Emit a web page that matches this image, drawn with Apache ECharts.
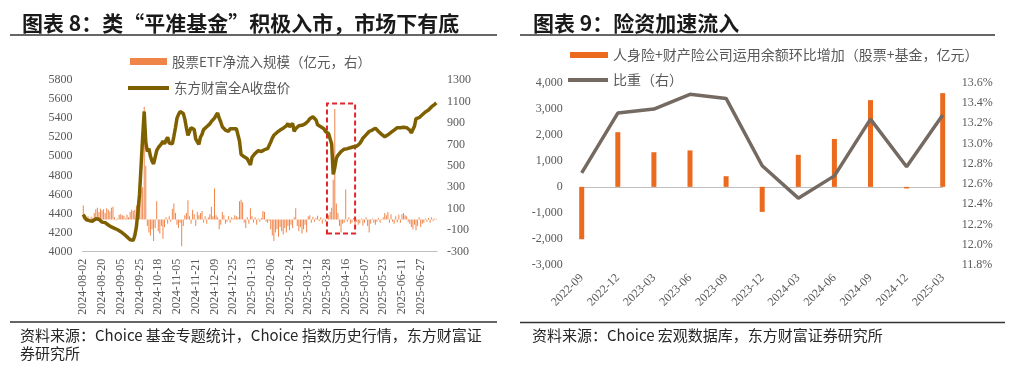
<!DOCTYPE html>
<html>
<head>
<meta charset="utf-8">
<script src="https://cdn.jsdelivr.net/npm/echarts@6/dist/echarts.min.js"></script>
<style>
html,body{margin:0;padding:0;background:#ffffff;}
#c{width:1024px;height:373px;}
</style>
</head>
<body>
<div id="c"></div>
<script>
// ---------- Left chart (图表 8) ----------
const tradeStart = '2024-08-02';
const tradeEnd = '2025-07-11';
const marketClosed = [
  '2024-09-16','2024-09-17',
  '2024-10-01','2024-10-02','2024-10-03','2024-10-04','2024-10-07',
  '2025-01-01',
  '2025-01-28','2025-01-29','2025-01-30','2025-01-31','2025-02-03','2025-02-04',
  '2025-04-04',
  '2025-05-01','2025-05-02','2025-05-05',
  '2025-06-02'
];

// 股票ETF净流入规模（亿元，右）, one value per trading day (rows of 12)
const etfFlow = [
  130, 35, 20, 30, -10, 25, 15, 60, 95, 110, 70, 100,
  85, 95, 60, 105, 90, 75, 110, 120, 20, -10, 10, 45,
  50, 40, 35, 10, 45, 20, 70, 90, 80, 90, 130, 170,
  180, 280, 300, 1050, 500, -60, -120, -150, -90, -200, -80, 170,
  -110, -130, -60, -180, -70, 20, -40, 30, -20, 100, 150, 60,
  -50, -80, -30, -250, -60, 40, 60, 180, 30, -40, 90, 50,
  -60, 70, 40, 60, 80, -30, 30, -40, 20, 50, 120, 30,
  290, 40, 20, -90, -50, 70, 40, -40, -20, 30, -30, 20,
  10, 40, 30, 20, 170, 185, 160, -30, -80, 20, -40, 105,
  30, -30, 20, -50, 10, -20, 15, 80, 70, -20, -30, -15,
  -90, -150, -200, -120, -90, -160, -70, -110, -140, -80, -120, -60,
  -100, -50, -80, 20, 105, -60, -110, -70, -130, -90, -50, -120,
  30, 40, -30, 25, -20, 15, 35, -15, 20, -40, 10, -20,
  15, 40, 70, 110, 370, 1030, 150, 60, -60, -120, -40, -30,
  280, -20, 20, -40, -30, 15, -45, -20, -50, -35, 10, -55,
  -30, 20, -60, -120, -40, 10, -30, -50, -20, 15, -30, 5,
  20, 60, 40, 70, -30, 50, -20, -40, 30, -25, 45, -30,
  50, 60, 40, 30, -20, -40, -70, -90, -50, -100, -60, 20,
  -70, -40, -30, 10, -20, 15, -30, 20, -15, 10, 5
];

// 东方财富全A收盘价, one value per trading day (rows of 12)
const allAClose = [
  4390, 4360, 4335, 4330, 4325, 4330, 4320, 4335, 4345, 4350, 4340, 4320,
  4310, 4300, 4305, 4290, 4280, 4270, 4260, 4265, 4245, 4240, 4230, 4215,
  4210, 4200, 4185, 4170, 4155, 4140, 4125, 4105, 4120, 4170, 4260, 4420,
  4600, 4900, 5200, 5470, 5150, 5050, 5080, 5000, 4950, 4920, 4990, 5060,
  5090, 5110, 5130, 5160, 5130, 5170, 5200, 5140, 5120, 5130, 5210, 5300,
  5400, 5440, 5470, 5460, 5450, 5390, 5300, 5220, 5260, 5300, 5285, 5280,
  5180, 5170, 5125, 5200, 5230, 5280, 5300, 5310, 5320, 5340, 5365, 5385,
  5400, 5430, 5455, 5400, 5360, 5310, 5290, 5275, 5265, 5260, 5290, 5295,
  5290, 5295, 5290, 5290, 5160, 5020, 5000, 4995, 4985, 4975, 4940, 4910,
  4990, 5010, 5030, 5035, 5060, 5065, 5050, 5060, 5070, 5065, 5080, 5085,
  5150, 5190, 5220, 5240, 5250, 5260, 5275, 5290, 5295, 5310, 5320, 5345,
  5310, 5330, 5345, 5260, 5290, 5310, 5320, 5330, 5325, 5330, 5340, 5350,
  5370, 5395, 5405, 5415, 5400, 5380, 5330, 5320, 5310, 5300, 5290, 5260,
  5250, 5240, 5240, 5130, 4810, 4880, 4980, 5010, 5030, 5050, 5065, 5075,
  5085, 5080, 5085, 5090, 5095, 5100, 5100, 5105, 5120, 5135, 5160, 5190,
  5205, 5225, 5240, 5260, 5265, 5275, 5285, 5295, 5280, 5260, 5250, 5230,
  5215, 5205, 5210, 5225, 5240, 5250, 5260, 5275, 5295, 5300, 5310, 5300,
  5295, 5305, 5310, 5300, 5285, 5275, 5245, 5280, 5315, 5395, 5400, 5405,
  5420, 5435, 5450, 5465, 5475, 5485, 5500, 5520, 5530, 5545, 5560
];

// highlighted window (dashed box) in data terms
const boxFrom = '2025-03-28';
const boxTo = '2025-04-21';
const boxTop = 1080;
const boxBottom = -130;

// ---------- Right chart (图表 9) ----------
const quarters = ['2022-09','2022-12','2023-03','2023-06','2023-09','2023-12','2024-03','2024-06','2024-09','2024-12','2025-03'];
const insIncrease = [-2010, 2100, 1330, 1400, 410, -960, 1230, 1840, 3330, -60, 3600];
const insShare = [12.71, 13.30, 13.34, 13.485, 13.445, 12.78, 12.46, 12.68, 13.24, 12.77, 13.28];

// ---------- build trading calendar ----------
function buildTradeDates(start, end, closed) {
  const out = [];
  let d = new Date(start + 'T00:00:00Z');
  const e = new Date(end + 'T00:00:00Z');
  while (d <= e) {
    const wd = d.getUTCDay();
    const s = d.toISOString().slice(0, 10);
    if (wd !== 0 && wd !== 6 && closed.indexOf(s) < 0) out.push(s);
    d = new Date(d.getTime() + 86400000);
  }
  return out;
}
const tradeDates = buildTradeDates(tradeStart, tradeEnd, marketClosed);

const CJK = '"Noto Sans CJK SC", sans-serif';
const SERIF = 'Liberation Serif';
const labelGray = '#595959';

const names = {
  etf: '股票ETF净流入规模（亿元，右）',
  allA: '东方财富全A收盘价',
  ins: '人身险+财产险公司运用余额环比增加（股票+基金，亿元）',
  share: '比重（右）'
};

const chart = echarts.init(document.getElementById('c'), null, {renderer: 'canvas'});

const legendText = (size) => ({fontFamily: 'Noto Sans CJK SC', fontSize: size, color: labelGray});
const numLabel = (margin, fmt) => ({
  fontFamily: SERIF, fontSize: 12, color: labelGray, margin: margin, formatter: fmt
});

chart.setOption({
  animation: false,
  backgroundColor: '#ffffff',
  grid: [
    {left: 82.5, right: 586.9, top: 80, bottom: 121.3},
    {left: 581.7, right: 81.3, top: 82.7, bottom: 108}
  ],
  legend: [
    {left: 130, top: 54.7, padding: 0, itemWidth: 37, itemHeight: 7, textStyle: legendText(13.5),
     data: [{name: names.etf, icon: 'rect'}]},
    {left: 128, top: 81.3, padding: 0, itemWidth: 41, itemHeight: 4, textStyle: legendText(13.5),
     data: [{name: names.allA, icon: 'rect'}]},
    {left: 570, top: 48, padding: 0, itemWidth: 38, itemHeight: 6, textStyle: legendText(14),
     data: [{name: names.ins, icon: 'rect'}]},
    {left: 568, top: 73, padding: 0, itemWidth: 40, itemHeight: 4, textStyle: legendText(14),
     data: [{name: names.share, icon: 'rect'}]}
  ],
  xAxis: [
    {
      gridIndex: 0, type: 'category', data: tradeDates,
      axisLine: {onZero: false, lineStyle: {color: '#BFBFBF', width: 1}},
      axisTick: {interval: 11, alignWithLabel: true, length: 4, lineStyle: {color: '#BFBFBF'}},
      axisLabel: {interval: 11, rotate: 90, fontFamily: SERIF, fontSize: 12, color: labelGray, margin: 7}
    },
    {
      gridIndex: 1, type: 'category', data: quarters, boundaryGap: false,
      axisLine: {show: false, onZero: false},
      axisTick: {show: false},
      axisLabel: {rotate: 45, fontFamily: SERIF, fontSize: 12, color: labelGray, margin: 11}
    },
    {
      gridIndex: 1, type: 'category', data: quarters, boundaryGap: false,
      axisLine: {show: true, onZero: true, lineStyle: {color: '#BFBFBF', width: 1}},
      axisTick: {show: false}, axisLabel: {show: false}
    }
  ],
  yAxis: [
    {
      gridIndex: 0, type: 'value', position: 'left', min: 4000, max: 5800, interval: 200,
      splitLine: {show: false}, axisLine: {show: false}, axisTick: {show: false},
      axisLabel: numLabel(10, v => String(v))
    },
    {
      gridIndex: 0, type: 'value', position: 'right', min: -300, max: 1300, interval: 200,
      splitLine: {show: false}, axisLine: {show: false}, axisTick: {show: false},
      axisLabel: numLabel(10, v => String(v))
    },
    {
      gridIndex: 1, type: 'value', position: 'left', min: -3000, max: 4000, interval: 1000,
      splitLine: {show: false}, axisLine: {show: false}, axisTick: {show: false},
      axisLabel: numLabel(19, v => (v < 0 ? '-' : '') + Math.abs(v).toLocaleString('en-US'))
    },
    {
      gridIndex: 1, type: 'value', position: 'right', min: 11.8, max: 13.6, interval: 0.2,
      splitLine: {show: false}, axisLine: {show: false}, axisTick: {show: false},
      axisLabel: numLabel(19, v => v.toFixed(1) + '%')
    }
  ],
  series: [
    {
      name: names.etf, type: 'bar', xAxisIndex: 0, yAxisIndex: 1, data: etfFlow,
      barWidth: 1, itemStyle: {color: '#F0854A'}, z: 2,
      markArea: {
        silent: true,
        itemStyle: {color: 'rgba(0,0,0,0)', borderColor: '#E0262B', borderWidth: 2, borderType: [5, 3]},
        label: {show: false},
        data: [[{xAxis: boxFrom, yAxis: boxTop}, {xAxis: boxTo, yAxis: boxBottom}]]
      }
    },
    {
      name: names.allA, type: 'line', xAxisIndex: 0, yAxisIndex: 0, data: allAClose,
      symbol: 'none', lineStyle: {color: '#7F6000', width: 3.5}, itemStyle: {color: '#7F6000'}, z: 3
    },
    {
      name: names.ins, type: 'bar', xAxisIndex: 1, yAxisIndex: 2, data: insIncrease,
      barWidth: 5, clip: false, itemStyle: {color: '#EB6A1E'}
    },
    {
      name: names.share, type: 'line', xAxisIndex: 1, yAxisIndex: 3, data: insShare,
      symbol: 'none', lineStyle: {color: '#746A62', width: 3.5}, itemStyle: {color: '#746A62'}
    }
  ],
  graphic: [
    {type: 'text', x: 22, y: 23.5, style: {text: '图表 8：类“平准基金”积极入市，市场下有底', font: 'bold 21px ' + CJK, fill: '#1a1a1a', verticalAlign: 'middle'}},
    {type: 'text', x: 533, y: 23.5, style: {text: '图表 9：险资加速流入', font: 'bold 21px ' + CJK, fill: '#1a1a1a', verticalAlign: 'middle'}},
    {type: 'line', shape: {x1: 10, y1: 35, x2: 497, y2: 35}, style: {stroke: '#333333', lineWidth: 1.5}},
    {type: 'line', shape: {x1: 520, y1: 35, x2: 995, y2: 35}, style: {stroke: '#333333', lineWidth: 1.5}},
    {type: 'line', shape: {x1: 10, y1: 322, x2: 497, y2: 322}, style: {stroke: '#333333', lineWidth: 1.5}},
    {type: 'line', shape: {x1: 520, y1: 322.5, x2: 1005, y2: 322.5}, style: {stroke: '#333333', lineWidth: 1.5}},
    {type: 'text', x: 20, y: 335.5, style: {text: '资料来源：Choice 基金专题统计，Choice 指数历史行情，东方财富证', font: '15px ' + CJK, fill: '#262626', verticalAlign: 'middle'}},
    {type: 'text', x: 20, y: 353.5, style: {text: '券研究所', font: '15px ' + CJK, fill: '#262626', verticalAlign: 'middle'}},
    {type: 'text', x: 532, y: 335.5, style: {text: '资料来源：Choice 宏观数据库，东方财富证券研究所', font: '15px ' + CJK, fill: '#262626', verticalAlign: 'middle'}}
  ]
});
</script>
</body>
</html>
